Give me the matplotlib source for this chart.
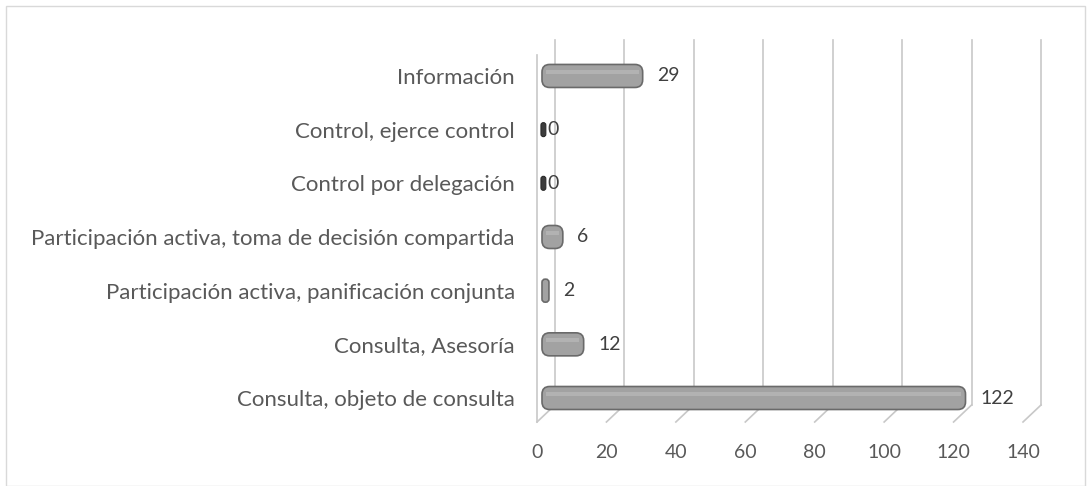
import numpy as np
import matplotlib.pyplot as plt
from matplotlib.patches import FancyBboxPatch, Rectangle

categorias = ['Consulta, objeto de consulta', 'Consulta, Asesoría',
              'Participación activa, panificación conjunta',
              'Participación activa, toma de decisión compartida',
              'Control por delegación', 'Control, ejerce control', 'Información']
valores = [122, 12, 2, 6, 0, 0, 29]
ticks = [0, 20, 40, 60, 80, 100, 120, 140]

plt.rcParams['font.family'] = ['Lato', 'DejaVu Sans']

W, H = 1091, 486
fig = plt.figure(figsize=(W / 100, H / 100), dpi=100)
fig.patches.append(Rectangle((6 / W, 0), (W - 12) / W, (H - 6) / H, transform=fig.transFigure,
                             fill=False, edgecolor='#d9d9d9', linewidth=1))

# axes placed so the front floor matches the reference
x0, x1, ytop, ybot = 537, 1023, 40, 422
ax = fig.add_axes([x0 / W, (H - ybot) / H, (x1 - x0) / W, (ybot - ytop) / H])
ax.set_xlim(0, 140)
ax.set_ylim(-0.447, 6.67)
for s in ax.spines.values():
    s.set_visible(False)

ux = 140 / (x1 - x0)          # data units per pixel
uy = 7.117 / (ybot - ytop)
dx, dy = 18 * ux, 17 * uy     # depth offset of back wall
grid_c = '#c8c8c8'
for t in ticks:
    ax.plot([t + dx, t + dx], [-0.447 + dy, 6.67], color=grid_c, lw=1.2, clip_on=False)
    ax.plot([t, t + dx], [-0.447, -0.447 + dy], color=grid_c, lw=1.2, clip_on=False)
ax.plot([0, 0], [-0.447, 6.67 - 15 * uy], color=grid_c, lw=1.2, clip_on=False)

y = np.arange(len(categorias))
start = 5 * ux
bh = 23 * uy
asp = uy / ux
for yi, v in zip(y, valores):
    if v > 0:
        r = min(2.2, v / 2.2)
        p = FancyBboxPatch((start, yi - bh / 2), v, bh,
                           boxstyle=f'round,pad=0,rounding_size={r}', mutation_aspect=asp,
                           facecolor='#a2a2a2', edgecolor='#6a6a6a', lw=1.2, zorder=3)
        ax.add_patch(p)
        if v > 4:
            ax.add_patch(Rectangle((start + 1.2, yi + bh * 0.08), v - 2.4, bh * 0.2,
                                   facecolor='#b2b2b2', edgecolor='none', zorder=4))
        ax.text(start + v + 4.2, yi, str(v), va='center', ha='left', fontsize=14,
                color='#404040')
    else:
        p = FancyBboxPatch((start - 0.3, yi - 7 * uy), 1.4, 14 * uy,
                           boxstyle='round,pad=0,rounding_size=0.7', mutation_aspect=asp,
                           facecolor='#3c3c3c', edgecolor='#2a2a2a', lw=0.8, zorder=3)
        ax.add_patch(p)
        ax.text(start + 1.6, yi, str(v), va='center', ha='left', fontsize=14,
                color='#404040')

ax.set_yticks(y)
ax.set_yticklabels(categorias)
ax.set_xticks(ticks)
ax.tick_params(axis='both', length=0, labelsize=14, labelcolor='#595959')
ax.tick_params(axis='x', pad=16)
ax.tick_params(axis='y', pad=16, labelsize=16)

fig.savefig('out.png', dpi=100)
